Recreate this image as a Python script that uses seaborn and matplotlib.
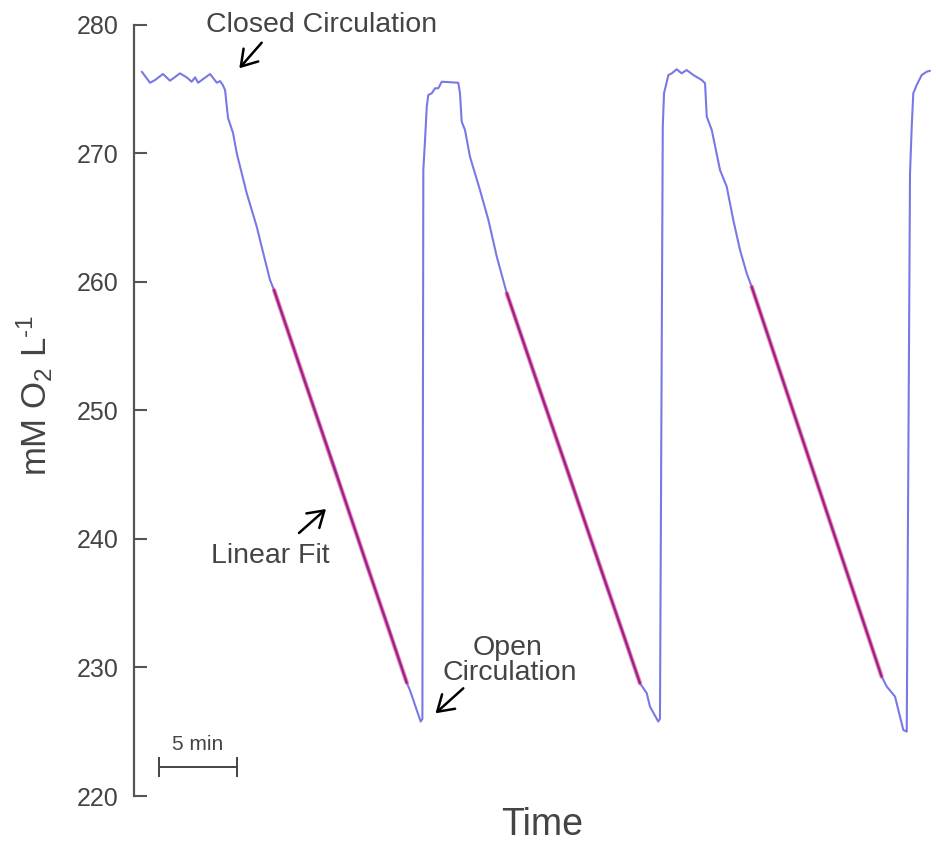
import matplotlib
matplotlib.use("Agg")
import matplotlib.pyplot as plt
import seaborn as sns
import pandas as pd

# ---------------- data (time in minutes, O2 in mM O2 L^-1) ----------------
trace_time = [
    0.11, 0.64, 0.96, 1.47, 1.92, 2.56, 2.99, 3.31, 3.53, 3.72, 4.49, 4.92,
    5.13, 5.30, 5.45, 5.64, 5.96, 6.20, 6.84, 7.48, 7.90, 8.33, 8.59,
    10.5, 12.5, 14.5, 16.0, 17.10, 17.31, 17.99,
    18.10, 18.16, 18.27, 18.38, 18.48, 18.70, 18.91, 19.12, 19.34, 20.40,
    20.51, 20.62, 20.83, 21.15, 21.79, 22.33, 22.87, 23.51,
    25.5, 27.5, 29.5, 31.0, 32.05, 32.48, 32.69, 33.22,
    33.33, 33.51, 33.59, 33.87, 34.09, 34.40, 34.72, 35.04, 35.47, 36.01,
    36.22, 36.33, 36.65, 37.18, 37.61, 38.03, 38.46, 38.89, 39.21,
    41.0, 43.0, 45.0, 46.5, 47.54, 47.87, 48.40, 48.72, 48.93, 49.15,
    49.36, 49.47, 49.57, 49.79, 50.11, 50.43, 50.64,
]
trace_o2 = [
    276.33, 275.47, 275.68, 276.15, 275.63, 276.20, 275.89, 275.55, 275.89,
    275.47, 276.15, 275.47, 275.60, 275.30, 274.90, 272.73, 271.56, 269.98,
    266.87, 264.28, 262.21, 260.13, 259.35,
    252.4, 245.5, 238.0, 232.9, 228.8, 228.2, 225.79,
    226.0, 268.68, 271.02, 273.61, 274.52, 274.65, 275.04, 275.04, 275.55,
    275.47,
    274.65, 272.44, 271.80, 269.72, 267.13, 264.80, 261.94, 259.10,
    251.9, 245.1, 237.7, 232.6, 228.77, 228.0, 226.95, 225.79,
    226.0, 272.05, 274.65, 276.07, 276.20, 276.52, 276.20, 276.46, 276.07,
    275.68,
    275.43, 272.83, 271.80, 268.68, 267.39, 264.80, 262.47, 260.65, 259.61,
    253.1, 245.8, 238.5, 233.1, 229.29, 228.51, 227.73, 226.17, 225.14,
    225.01,
    268.43, 272.05, 274.65, 275.30, 276.07, 276.33, 276.40,
]

fit_t_start = [8.59, 23.51, 39.21]
fit_t_end = [17.10, 32.05, 47.54]
fit_v_start = [259.35, 259.10, 259.61]
fit_v_end = [228.80, 228.77, 229.29]

y_ticks = [220, 230, 240, 250, 260, 270, 280]
scale_bar_minutes = 5

# ---------------- style ----------------
sns.set_theme(style="white")
plt.rcParams["font.family"] = ["Liberation Sans", "DejaVu Sans"]
plt.rcParams["mathtext.default"] = "regular"

TXT = "#444444"
AXC = "#555555"
W, H = 937, 844

fig = plt.figure(figsize=(W / 100, H / 100), dpi=100)
ax_left, ax_right = 133.5, 937.0
ax_top, ax_bottom = 24.5, 796.0
ax = fig.add_axes([ax_left / W, 1 - ax_bottom / H,
                   (ax_right - ax_left) / W, (ax_bottom - ax_top) / H])
ax.set_facecolor("white")

df = pd.DataFrame({"t": trace_time, "o2": trace_o2})
sns.lineplot(data=df, x="t", y="o2", ax=ax, sort=False, estimator=None,
             color="#7878e6", linewidth=1.5)

fit_rows = []
for i in range(len(fit_t_start)):
    fit_rows.append({"t": fit_t_start[i], "o2": fit_v_start[i], "seg": i})
    fit_rows.append({"t": fit_t_end[i], "o2": fit_v_end[i], "seg": i})
fit_df = pd.DataFrame(fit_rows)
for seg, g in fit_df.groupby("seg"):
    sns.lineplot(data=g, x="t", y="o2", ax=ax, sort=False, estimator=None,
                 color="#e0609a", linewidth=3.2, alpha=0.7)
    sns.lineplot(data=g, x="t", y="o2", ax=ax, sort=False, estimator=None,
                 color="#a0208a", linewidth=1.6)

ax.set_xlim(-0.42, 51.09)
ax.set_ylim(220, 280)
ax.set_yticks(y_ticks)
ax.set_yticklabels([str(v) for v in y_ticks])
ax.set_xticks([])
ax.set_xlabel("")
ax.set_ylabel("")
for s in ["top", "right", "bottom"]:
    ax.spines[s].set_visible(False)
ax.spines["left"].set_color(AXC)
ax.spines["left"].set_linewidth(1.6)
ax.tick_params(axis="y", direction="in", length=9.4, width=1.5, color=AXC,
               labelsize=18, labelcolor=TXT, pad=11, left=True)

# scale bar
sb_x0 = 1.2
sb_y = 222.25
ax.plot([sb_x0, sb_x0 + scale_bar_minutes], [sb_y, sb_y], color=TXT, lw=1.4)
ax.vlines([sb_x0, sb_x0 + scale_bar_minutes], sb_y - 0.78, sb_y + 0.78,
          color=TXT, lw=1.4)
ax.text(sb_x0 + scale_bar_minutes / 2, 224.0, f"{scale_bar_minutes} min",
        ha="center", va="center", fontsize=15, color=TXT)


def fp(px, py):
    return (px / W, 1 - py / H)


ann_fs = 20.5
fig.text(*fp(321.5, 32.3), "Closed Circulation", ha="center", va="baseline",
         fontsize=ann_fs, color=TXT)
fig.text(*fp(270, 563.3), "Linear Fit", ha="center", va="baseline",
         fontsize=ann_fs, color=TXT)
fig.text(*fp(508, 655), "Open", ha="center", va="baseline",
         fontsize=ann_fs, color=TXT)
fig.text(*fp(509.5, 680), "Circulation", ha="center", va="baseline",
         fontsize=ann_fs, color=TXT)

for tail, head in [((261.7, 42.7), (239.3, 68.3)),
                   ((299.0, 533.0), (326.0, 509.0)),
                   ((463.3, 688.3), (435.5, 713.3))]:
    fig.add_artist(matplotlib.patches.FancyArrowPatch(
        fp(*tail), fp(*head), transform=fig.transFigure,
        arrowstyle="->,head_length=0.55,head_width=0.35",
        mutation_scale=20, color="black", lw=1.8, shrinkA=0, shrinkB=0))

fig.text(*fp(542, 843), "Time", ha="center", va="bottom", fontsize=27,
         color=TXT)
fig.text(*fp(35, 395), "mM O$_2$ L$^{\u2010 1}$", ha="center", va="center",
         rotation=90, fontsize=25, color=TXT)

fig.savefig("out.png", dpi=100, facecolor="white")
